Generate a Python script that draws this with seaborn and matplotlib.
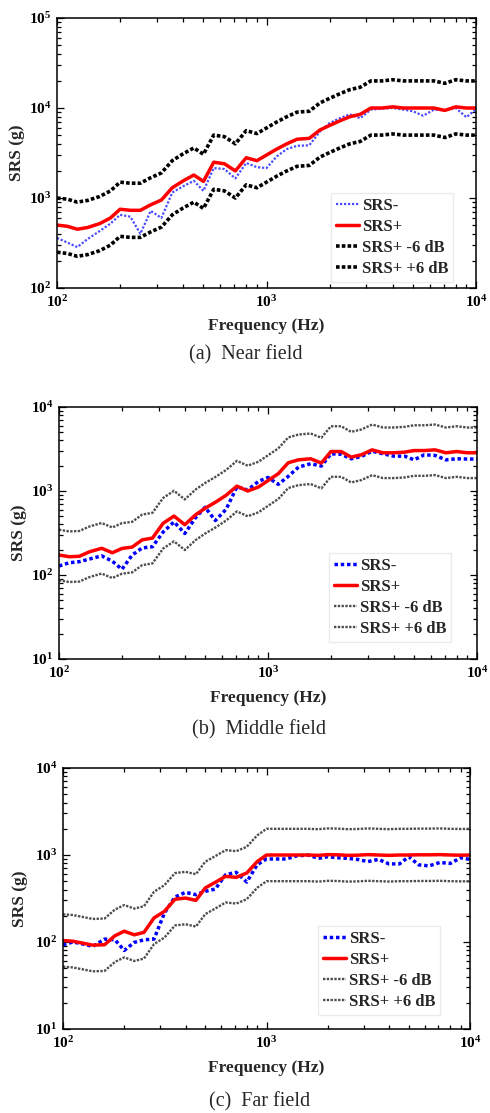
import numpy as np
import pandas as pd
import matplotlib
matplotlib.use("Agg")
import matplotlib.pyplot as plt
import matplotlib.ticker as mticker
import seaborn as sns

# ---------------- data ----------------
FREQ = [100, 112, 125, 140, 160, 180, 200, 224, 250, 280, 315, 355, 400, 450, 500,
        560, 630, 710, 800, 900, 1000, 1120, 1250, 1400, 1600, 1800, 2000, 2240, 2500,
        2800, 3150, 3550, 4000, 4500, 5000, 5600, 6300, 7100, 8000, 9000, 10000]

NEAR_NEG = [360, 320, 285, 350, 430, 520, 650, 620, 400, 720, 600, 1150, 1350, 1550, 1200,
            2150, 2100, 1650, 2450, 2200, 2150, 2900, 3500, 3800, 3850, 5500, 6800, 7700, 8500,
            7700, 9600, 9800, 10000, 9600, 9200, 8200, 9600, 9400, 10000, 7900, 9700]
NEAR_POS = [500, 485, 450, 470, 520, 600, 750, 730, 730, 840, 950, 1300, 1550, 1800, 1530,
            2500, 2400, 2000, 2800, 2600, 3000, 3500, 4000, 4500, 4600, 5700, 6400, 7200, 8000,
            8500, 10000, 10000, 10300, 10000, 10000, 10000, 10000, 9400, 10300, 10000, 10000]
NEAR_M6 = [250, 242, 225, 235, 260, 300, 375, 365, 365, 420, 475, 650, 775, 900, 765,
           1250, 1200, 1000, 1400, 1300, 1500, 1750, 2000, 2250, 2300, 2850, 3200, 3600, 4000,
           4250, 5000, 5000, 5150, 5000, 5000, 5000, 5000, 4700, 5150, 5000, 5000]
NEAR_P6 = [1000, 970, 900, 940, 1040, 1200, 1500, 1460, 1460, 1680, 1900, 2600, 3100, 3600, 3060,
           5000, 4800, 4000, 5600, 5200, 6000, 7000, 8000, 9000, 9200, 11400, 12800, 14400, 16000,
           17000, 20000, 20000, 20600, 20000, 20000, 20000, 20000, 18800, 20600, 20000, 20000]

MID_NEG = [128, 140, 144, 155, 169, 146, 117, 173, 210, 217, 325, 429, 312, 480, 640,
           445, 605, 1120, 1030, 1300, 1450, 1200, 1493, 1927, 2110, 1980, 2770, 2740, 2417,
           2577, 2980, 2770, 2600, 2600, 2350, 2700, 2650, 2350, 2420, 2400, 2400]
MID_POS = [173, 165, 167, 189, 208, 184, 207, 215, 262, 275, 413, 503, 397, 520, 623,
           734, 889, 1143, 1000, 1115, 1330, 1607, 2170, 2350, 2420, 2150, 2950, 2950, 2530,
           2700, 3090, 2850, 2850, 2900, 3030, 3030, 3090, 2850, 2950, 2850, 2850]
MID_M6 = [86.5, 82.5, 83.5, 94.5, 104, 92, 103.5, 107.5, 131, 137.5, 206.5, 251.5, 198.5, 260, 311.5,
          367, 444.5, 571.5, 500, 557.5, 665, 803.5, 1085, 1175, 1210, 1075, 1475, 1475, 1265,
          1350, 1545, 1425, 1425, 1450, 1515, 1515, 1545, 1425, 1475, 1425, 1425]
MID_P6 = [346, 330, 334, 378, 416, 368, 414, 430, 524, 550, 826, 1006, 794, 1040, 1246,
          1468, 1778, 2286, 2000, 2230, 2660, 3214, 4340, 4700, 4840, 4300, 5900, 5900, 5060,
          5400, 6180, 5700, 5700, 5800, 6060, 6060, 6180, 5700, 5900, 5700, 5700]

FAR_NEG = [93, 100, 95, 89, 108, 106, 80, 99, 106, 108, 215, 329, 372, 350, 382,
           406, 594, 632, 489, 774, 900, 900, 900, 975, 1000, 915, 955, 930, 915,
           890, 840, 890, 790, 790, 955, 770, 750, 820, 800, 930, 890]
FAR_POS = [104, 102, 97, 92, 93, 118, 133, 121, 129, 189, 225, 310, 320, 301, 418,
           485, 569, 553, 621, 840, 1000, 1000, 1000, 1000, 1000, 990, 1010, 1005, 990,
           995, 1010, 1000, 990, 1000, 1000, 1005, 1005, 1010, 1000, 995, 1000]
FAR_M6 = [52, 51, 48.5, 46, 46.5, 59, 66.5, 60.5, 64.5, 94.5, 112.5, 155, 160, 150.5, 209,
          242.5, 284.5, 276.5, 310.5, 420, 500, 500, 500, 500, 500, 495, 505, 502.5, 495,
          497.5, 505, 500, 495, 500, 500, 502.5, 502.5, 505, 500, 497.5, 500]
FAR_P6 = [208, 204, 194, 184, 186, 236, 266, 242, 258, 378, 450, 620, 640, 602, 836,
          970, 1138, 1106, 1242, 1680, 2000, 2000, 2000, 2000, 2000, 1980, 2020, 2010, 1980,
          1990, 2020, 2000, 1980, 2000, 2000, 2010, 2010, 2020, 2000, 1990, 2000]

LABELS = ["SRS-", "SRS+", "SRS+ -6 dB", "SRS+ +6 dB"]
CAPTIONS = ["(a)  Near field", "(b)  Middle field", "(c)  Far field"]
YLIMS = [(1e2, 1e5), (1e1, 1e4), (1e1, 1e4)]
XLIM = (1e2, 1e4)

# ---------------- style ----------------
sns.set_style("ticks")
plt.rcParams["font.family"] = ["Liberation Serif", "DejaVu Serif"]
plt.rcParams["mathtext.fontset"] = "custom"
plt.rcParams["mathtext.rm"] = "Liberation Serif:bold"
plt.rcParams["mathtext.bf"] = "Liberation Serif:bold"
plt.rcParams["mathtext.it"] = "Liberation Serif:bold:italic"
plt.rcParams["axes.linewidth"] = 1.1

W, H = 490, 1113
fig = plt.figure(figsize=(W / 100, H / 100), dpi=100)

# axes boxes in pixels: left, right, top, bottom
boxes = [(57, 476, 18, 288), (59, 477, 407, 659), (63, 470, 768, 1029)]
legend_pos = [(331, 193), (329, 553), (318, 926)]
caption_pos = [(246, 355), (259, 730), (260, 1102)]
ylabel_x = [25, 27, 28]
xlabel_y = [318, 690, 1060]

panels = [
    (NEAR_NEG, NEAR_POS, NEAR_M6, NEAR_P6),
    (MID_NEG, MID_POS, MID_M6, MID_P6),
    (FAR_NEG, FAR_POS, FAR_M6, FAR_P6),
]

fmt = mticker.FuncFormatter(lambda v, p: r"$\mathbf{10^{%d}}$" % int(round(np.log10(v))))

for i, (neg, pos, m6, p6) in enumerate(panels):
    l, r, t, b = boxes[i]
    ax = fig.add_axes([l / W, 1 - b / H, (r - l) / W, (b - t) / H])
    df = pd.DataFrame({"f": FREQ, "neg": neg, "pos": pos, "m6": m6, "p6": p6})

    if i == 0:
        neg_kw = dict(color="#4a4aff", lw=1.6, linestyle=(0, (1, 0.8)))
        band_kw = dict(color="black", lw=2.6, linestyle=(0, (1, 0.6)))
    else:
        neg_kw = dict(color="#0000ff", lw=2.5, linestyle=(0, (1, 0.8)))
        band_kw = dict(color="#4d4d4d", lw=1.7, linestyle=(0, (1, 0.6)))

    sns.lineplot(data=df, x="f", y="neg", ax=ax, label=LABELS[0], estimator=None, **neg_kw)
    sns.lineplot(data=df, x="f", y="pos", ax=ax, label=LABELS[1], estimator=None,
                 color="#ff0000", lw=2.5)
    sns.lineplot(data=df, x="f", y="m6", ax=ax, label=LABELS[2], estimator=None, **band_kw)
    sns.lineplot(data=df, x="f", y="p6", ax=ax, label=LABELS[3], estimator=None, **band_kw)

    ax.set_xscale("log")
    ax.set_yscale("log")
    ax.set_xlim(*XLIM)
    ax.set_ylim(*YLIMS[i])
    ax.xaxis.set_major_locator(mticker.LogLocator(base=10, numticks=10))
    ax.yaxis.set_major_locator(mticker.LogLocator(base=10, numticks=10))
    ax.xaxis.set_minor_locator(mticker.LogLocator(base=10, subs=np.arange(2, 10), numticks=20))
    ax.yaxis.set_minor_locator(mticker.LogLocator(base=10, subs=np.arange(2, 10), numticks=20))
    ax.xaxis.set_major_formatter(fmt)
    ax.yaxis.set_major_formatter(fmt)
    ax.xaxis.set_minor_formatter(mticker.NullFormatter())
    ax.yaxis.set_minor_formatter(mticker.NullFormatter())
    ax.tick_params(which="both", direction="in", top=True, right=True, width=0.9, colors="black")
    ax.tick_params(which="major", length=5, labelsize=11)
    ax.tick_params(axis="x", which="major", pad=4.5)
    ax.tick_params(axis="y", which="major", pad=4)
    ax.tick_params(which="minor", length=3)
    for s in ax.spines.values():
        s.set_visible(True)
        s.set_color("black")

    ax.set_xlabel("Frequency (Hz)", fontsize=12.5, fontweight="bold")
    ax.set_ylabel("SRS (g)", fontsize=12.5, fontweight="bold")
    ax.xaxis.set_label_coords(0.5, (b - xlabel_y[i]) / (b - t))
    ax.yaxis.set_label_coords((ylabel_x[i] - l) / (r - l), 0.5)

    lx, ly = legend_pos[i]
    leg = ax.legend(loc="upper left", bbox_to_anchor=(lx / W, 1 - ly / H),
                    bbox_transform=fig.transFigure, borderaxespad=0,
                    prop={"family": "Liberation Serif", "weight": "bold", "size": 12},
                    handlelength=1.4, handletextpad=0.15, labelspacing=0.3,
                    borderpad=0.3, frameon=True, fancybox=False)
    leg.get_frame().set_edgecolor("#e6e6e6")
    leg.get_frame().set_linewidth(1.0)

    cx, cy = caption_pos[i]
    fig.text(cx / W, 1 - cy / H, CAPTIONS[i], ha="center", va="center", fontsize=14.5,
             family="Liberation Serif")

fig.savefig("out.png", dpi=100)
